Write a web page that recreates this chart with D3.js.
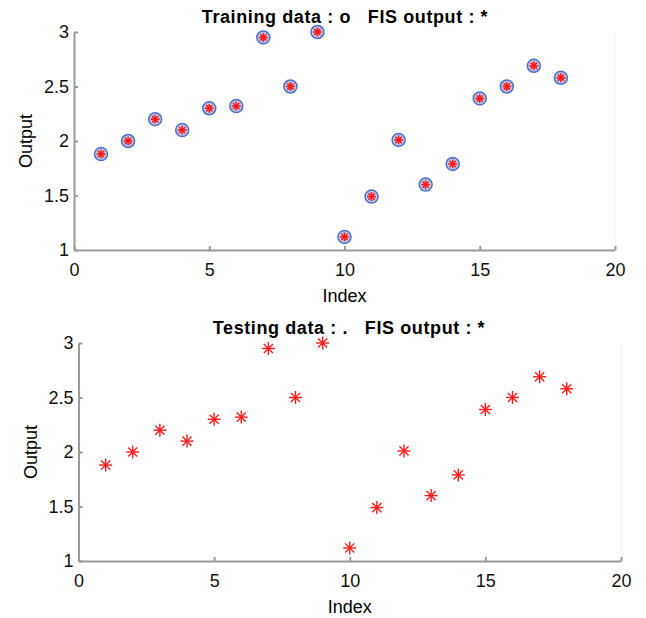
<!DOCTYPE html>
<meta charset="utf-8">
<style>
body { margin: 0; background: #fff; }
text { font-family: "Liberation Sans", Arial, sans-serif; }
.axis path, .axis line { stroke: #9a9a9a; stroke-width: 2px; }
.axis text { font-size: 18px; fill: #111; }
.title { font-size: 18px; font-weight: bold; letter-spacing: 0.6px; }
.label { font-size: 18px; }
</style>
<body>
<script src="https://d3js.org/d3.v7.min.js"></script>
<script>
// data
var index = [1, 2, 3, 4, 5, 6, 7, 8, 9, 10, 11, 12, 13, 14, 15, 16, 17, 18];
var trainOut = [1.88, 2.0, 2.2, 2.1, 2.3, 2.32, 2.95, 2.5, 3.0, 1.12, 1.49, 2.01, 1.6, 1.79, 2.39, 2.5, 2.69, 2.58];
var testOut = [1.88, 2.0, 2.2, 2.1, 2.3, 2.32, 2.95, 2.5, 3.0, 1.12, 1.49, 2.01, 1.6, 1.79, 2.39, 2.5, 2.69, 2.58];
var xTicks = [0, 5, 10, 15, 20];
var yTicks = [1, 1.5, 2, 2.5, 3];

var svg = d3.select("body").append("svg")
    .attr("width", 646)
    .attr("height", 618);

// one panel
function panel(o) {
  var x = d3.scaleLinear().domain([0, 20]).range([o.left, o.right]);
  var y = d3.scaleLinear().domain([1, 3]).range([o.bottom, o.top]);
  var g = svg.append("g");

  // faint right edge
  g.append("line")
      .attr("x1", x(20)).attr("x2", x(20))
      .attr("y1", y(3)).attr("y2", y(1))
      .attr("stroke", "#f0f0f0");

  g.append("g")
      .attr("class", "axis")
      .attr("transform", "translate(0," + y(1) + ")")
      .call(d3.axisBottom(x).tickValues(xTicks).tickSizeInner(-4).tickSizeOuter(0).tickPadding(13));

  g.append("g")
      .attr("class", "axis")
      .attr("transform", "translate(" + x(0) + ",0)")
      .call(d3.axisLeft(y).tickValues(yTicks).tickSizeInner(-4).tickSizeOuter(0).tickPadding(5)
        .tickFormat(d3.format("")));

  g.append("text")
      .attr("class", "title")
      .attr("x", o.titleX)
      .attr("y", o.top - 9)
      .attr("text-anchor", "middle")
      .attr("xml:space", "preserve")
      .text(o.title);

  g.append("text")
      .attr("class", "label")
      .attr("x", (x(0) + x(20)) / 2)
      .attr("y", y(1) + 52)
      .attr("text-anchor", "middle")
      .text("Index");

  g.append("text")
      .attr("class", "label")
      .attr("transform", "translate(" + (x(0) - 42) + "," + ((y(1) + y(3)) / 2) + ") rotate(-90)")
      .attr("text-anchor", "middle")
      .text("Output");

  var pts = g.selectAll(".pt")
      .data(index.map(function(d, i) { return {i: d, v: o.values[i]}; }))
    .enter().append("g")
      .attr("transform", function(d) { return "translate(" + x(d.i) + "," + y(d.v) + ")"; });

  if (o.circles) {
    pts.append("circle")
        .attr("r", 6.5)
        .attr("fill", "#b9c9ea")
        .attr("stroke", "#4f6fc4")
        .attr("stroke-width", 1.5);
  }
  var s = o.star;
  [[-s, 0, s, 0], [0, -s, 0, s], [-s * 0.7, -s * 0.7, s * 0.7, s * 0.7], [-s * 0.7, s * 0.7, s * 0.7, -s * 0.7]]
    .forEach(function(l) {
      pts.append("line")
          .attr("x1", l[0]).attr("y1", l[1])
          .attr("x2", l[2]).attr("y2", l[3])
          .attr("stroke", "#ff1a1a")
          .attr("stroke-width", o.circles ? 1.6 : 1.4);
    });
  if (o.circles) {
    pts.append("circle").attr("r", 2).attr("fill", "#ff1a1a");
  }
}

panel({left: 74, right: 615, top: 32, bottom: 250, values: trainOut, circles: true, star: 4.5,
       titleX: 345, title: "Training data : o   FIS output : *"});
panel({left: 78.5, right: 621, top: 343, bottom: 561, values: testOut, circles: false, star: 6.5,
       titleX: 349, title: "Testing data : .   FIS output : *"});
</script>
</body>
